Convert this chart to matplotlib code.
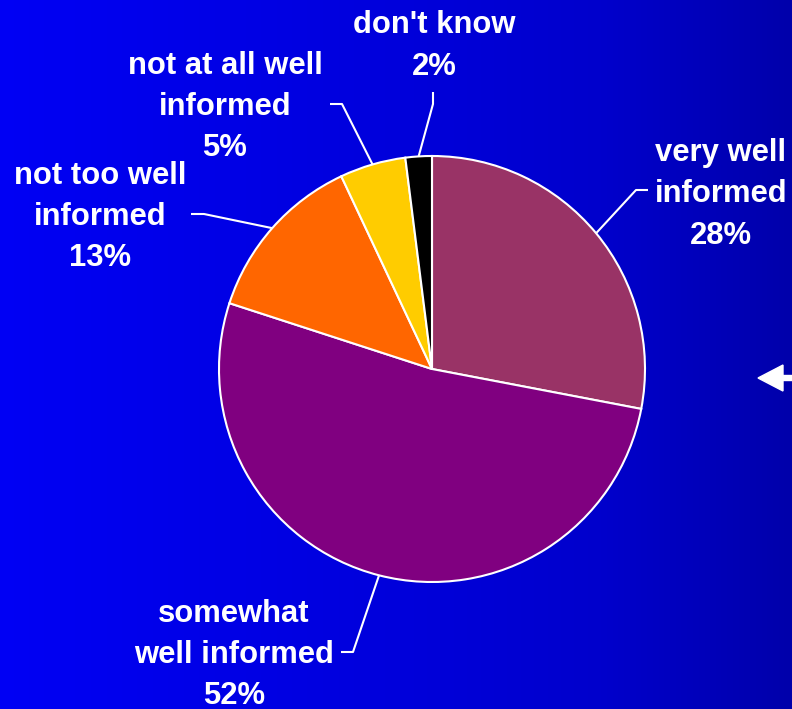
import numpy as np
import matplotlib
matplotlib.use("Agg")
import matplotlib.pyplot as plt
from matplotlib.patches import FancyArrow

# Survey: how well informed respondents feel
categories = ["very well\ninformed", "somewhat\nwell informed", "not too well\ninformed",
              "not at all well\ninformed", "don't know"]
shares = [28, 52, 13, 5, 2]
colors = ["#993366", "#800080", "#FF6600", "#FFCC00", "#000000"]

W, H = 792, 709
fig = plt.figure(figsize=(W / 100, H / 100), dpi=100)
ax = fig.add_axes([0, 0, 1, 1])
ax.set_xlim(0, W)
ax.set_ylim(0, H)
ax.axis("off")

# horizontal blue gradient background
xs = np.linspace(0, 1, 400)
blue = np.interp(xs, [0, 0.5, 0.76, 1.0], [0.96, 0.86, 0.80, 0.67])
grad = np.zeros((2, len(xs), 3))
grad[..., 2] = blue
ax.imshow(grad, extent=[0, W, 0, H], aspect="auto", zorder=0)

cx, cy, r = 432, H - 369, 213
wedges, _ = ax.pie(shares, colors=colors, startangle=90, counterclock=False,
                   center=(cx, cy), radius=r, frame=True,
                   wedgeprops=dict(edgecolor="white", linewidth=1.5))
for w in wedges:
    w.set_zorder(2)
ax.set_xlim(0, W)
ax.set_ylim(0, H)
ax.axis("off")

# label blocks: (text centre x, centre y in pixels from top, elbow path)
label_pos = [
    (721, 194, [(636, 190), (648, 190)]),
    (234, 655, [(353, 652), (341, 652)]),
    (100, 217, [(204, 214), (191, 214)]),
    (225, 107, [(342, 104), (330, 104)]),
    (434, 46, [(433, 104), (433, 92)]),
]

angles = []
start = 90.0
for s in shares:
    span = s / sum(shares) * 360
    angles.append(start - span / 2)
    start -= span

for cat, s, ang, (tx, ty, path) in zip(categories, shares, angles, label_pos):
    ex = cx + r * np.cos(np.radians(ang))
    ey = cy + r * np.sin(np.radians(ang))
    pts = [(ex, ey)] + [(px, H - py) for px, py in path]
    ax.plot([p[0] for p in pts], [p[1] for p in pts], color="white", lw=1.5,
            zorder=3, solid_capstyle="butt")
    ax.text(tx, H - ty, f"{cat}\n{s}%", ha="center", va="center", color="white",
            fontsize=22.3, fontweight="bold", family="Liberation Sans",
            linespacing=1.5, zorder=4)

# navigation arrow at the right edge
ax.add_patch(FancyArrow(800, H - 378, -42, 0, width=5, head_width=26,
                        head_length=25, length_includes_head=True,
                        color="white", zorder=4))

fig.savefig("out.png", dpi=100)
